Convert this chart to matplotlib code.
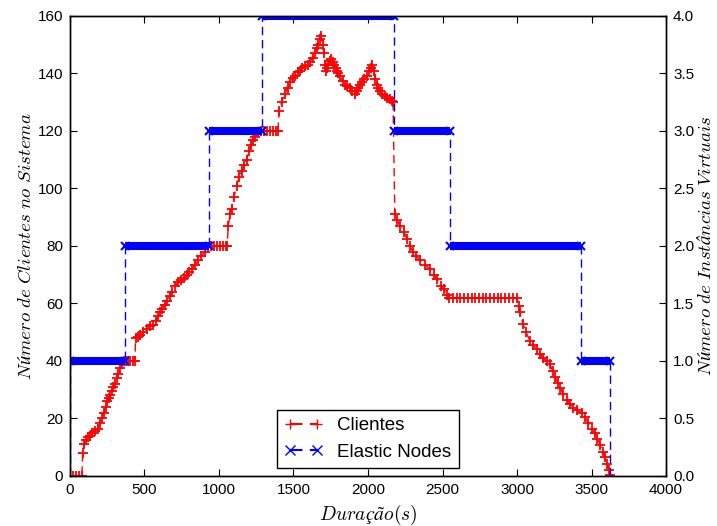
import matplotlib
matplotlib.use('Agg')
import matplotlib.pyplot as plt
from matplotlib.lines import Line2D

plt.rcParams['font.family'] = ['Liberation Sans', 'DejaVu Sans']
plt.rcParams['mathtext.fontset'] = 'cm'

# clientes no sistema
clientes_t = [0, 20, 40, 60, 80,
              85, 95, 105, 120, 135, 150, 168, 185, 201, 215, 228, 240, 250, 260, 270,
              280, 290, 300, 315, 325, 336, 348, 362, 376, 390, 405, 420, 436,
              440, 455, 470, 490, 517, 540, 557, 575, 590, 605, 617, 635, 651, 668, 685,
              705, 725, 745, 765, 785, 800, 819, 840, 859, 880, 906, 926, 945, 965, 985,
              1005, 1025, 1045, 1055,
              1062, 1075, 1085, 1100, 1119, 1135, 1152, 1170, 1186, 1200, 1215, 1230, 1245,
              1262, 1280, 1300, 1320, 1340, 1360, 1380, 1395,
              1405, 1420, 1443, 1460, 1477, 1495, 1510, 1530, 1544, 1560, 1577, 1595, 1611,
              1628, 1644, 1655, 1664, 1675, 1685, 1695, 1705, 1712, 1718, 1725, 1732, 1742,
              1752, 1762, 1772, 1782, 1792, 1802, 1812, 1830, 1846, 1862, 1879, 1895, 1913,
              1925, 1933, 1945, 1960, 1975, 1993, 2005, 2020, 2030, 2040, 2050, 2060, 2070,
              2081, 2095, 2114, 2130, 2148, 2160, 2168,
              2180, 2195, 2215, 2240, 2262, 2280, 2302, 2325, 2349, 2380, 2416, 2440, 2463,
              2490, 2510, 2530, 2545, 2570, 2595, 2620, 2645, 2670, 2695, 2720, 2745, 2770,
              2795, 2820, 2845, 2870, 2895, 2920, 2945, 2970, 2998,
              3010, 3020, 3040, 3060, 3087, 3110, 3134, 3155, 3174, 3200, 3221, 3240, 3255,
              3272, 3289, 3310, 3336, 3355, 3376, 3405, 3436, 3455, 3477, 3500, 3523, 3540,
              3557, 3575, 3591, 3605, 3615, 3624]
clientes_n = [0, 0, 0, 0, 0,
              8, 11, 12.6, 13.5, 14, 15, 15.5, 16.5, 18.5, 20, 22, 24, 26, 27, 28,
              29.5, 31, 32, 34, 35.5, 37.5, 39, 40, 40, 40, 40, 40, 40,
              48, 48.5, 49, 50, 51, 52, 52.5, 54, 55.5, 57, 58, 59.5, 61, 62.5, 64,
              66, 67.5, 68, 69, 70, 71, 72, 73.5, 75, 76.5, 78, 79.5, 80, 80, 80,
              80, 80, 80, 80,
              87, 91, 93, 97, 101, 104, 106, 108, 110, 113, 115, 117, 118,
              119.5, 120, 120, 120, 120, 120, 120, 120,
              127, 130, 133, 135, 137, 138.5, 139, 140.5, 141, 142, 142.5, 143, 144,
              145.5, 147, 149, 150, 152, 153, 150, 147, 143, 141, 142, 143, 144.5,
              145, 144, 143, 142, 141, 140, 139, 137.5, 136, 135.5, 135, 134, 133,
              134, 135, 136, 137, 138, 139, 141, 142, 143, 141, 138, 136, 135,
              134, 133, 132, 131.5, 131, 130.5, 130,
              91, 89, 87, 85, 82.5, 80, 78, 76.5, 75, 73.5, 72, 70, 68.5,
              66, 65, 63, 62, 62, 62, 62, 62, 62, 62, 62, 62, 62,
              62, 62, 62, 62, 62, 62, 62, 62, 62,
              59, 57, 53, 50, 47, 45.5, 44, 42.5, 41, 40, 38.8, 36.5, 34.6,
              32.5, 30.7, 28.5, 26.5, 25, 23.7, 22.8, 22, 20.5, 18.5, 16.5, 15, 13,
              10.8, 8.5, 6.6, 4, 2, 0.5]

# elastic nodes: instante da mudanca e numero de instancias a partir dele
nodes_t = [0, 0, 369, 933, 1289, 2174, 2550, 3430, 3624]
nodes_n = [0, 1, 2, 3, 4, 3, 2, 1, 0]

fig = plt.figure(figsize=(7.17, 5.26), dpi=100)
ax1 = fig.add_axes([0.0976, 0.0951, 0.8313, 0.8745])
ax2 = ax1.twinx()

dash = (0, (6, 3.5))
ax1.plot(clientes_t, clientes_n, color='r', ls=dash, lw=1,
         marker='+', ms=7, mew=1.3)

# ligacoes tracejadas entre niveis
ax2.step(nodes_t, nodes_n, where='post', color='b', ls=dash, lw=1)
# faixas horizontais (marcadores x muito densos no original)
for i in range(len(nodes_t) - 1):
    if nodes_t[i + 1] > nodes_t[i]:
        ax2.plot([nodes_t[i], nodes_t[i + 1]], [nodes_n[i], nodes_n[i]],
                 color='b', lw=5.8, solid_capstyle='butt')
        ax2.plot([nodes_t[i], nodes_t[i + 1]], [nodes_n[i], nodes_n[i]],
                 ls='none', color='b', marker='x', ms=6, mew=1.5)

ax1.set_xlim(0, 4000)
ax1.set_ylim(0, 160)
ax2.set_ylim(0, 4)
ax1.set_xticks(range(0, 4001, 500))
ax1.set_yticks(range(0, 161, 20))
ax2.set_yticks([0, 0.5, 1, 1.5, 2, 2.5, 3, 3.5, 4])
ax2.set_yticklabels(['0.0', '0.5', '1.0', '1.5', '2.0', '2.5', '3.0', '3.5', '4.0'])

ax1.tick_params(axis='x', direction='in', top=True, length=5, pad=5, labelsize=11)
ax1.tick_params(axis='y', direction='in', length=5, pad=5, labelsize=11)
ax2.tick_params(axis='y', direction='in', length=5, pad=5, labelsize=11)
for ax in (ax1, ax2):
    for s in ax.spines.values():
        s.set_linewidth(1)
        s.set_color('black')

ax1.set_xlabel(r'$Duração(s)$', fontsize=14, labelpad=4)
ax1.set_ylabel(r'$Número\ de\ Clientes\ no\ Sistema$', fontsize=13.5, labelpad=2)
ax2.set_ylabel(r'$Número\ de\ Instâncias\ Virtuais$', fontsize=13.5, labelpad=2)

handles = [Line2D([], [], color='r', ls=dash, marker='+', ms=7, mew=1),
           Line2D([], [], color='b', ls=dash, marker='x', ms=7, mew=1)]
leg = ax2.legend(handles, ['Clientes', 'Elastic Nodes'], loc='lower center',
                 numpoints=2, fontsize=13.5, fancybox=False, framealpha=1,
                 edgecolor='black', borderaxespad=0.4)
leg.get_frame().set_linewidth(1)

fig.savefig('out.png', dpi=100, facecolor='white')
